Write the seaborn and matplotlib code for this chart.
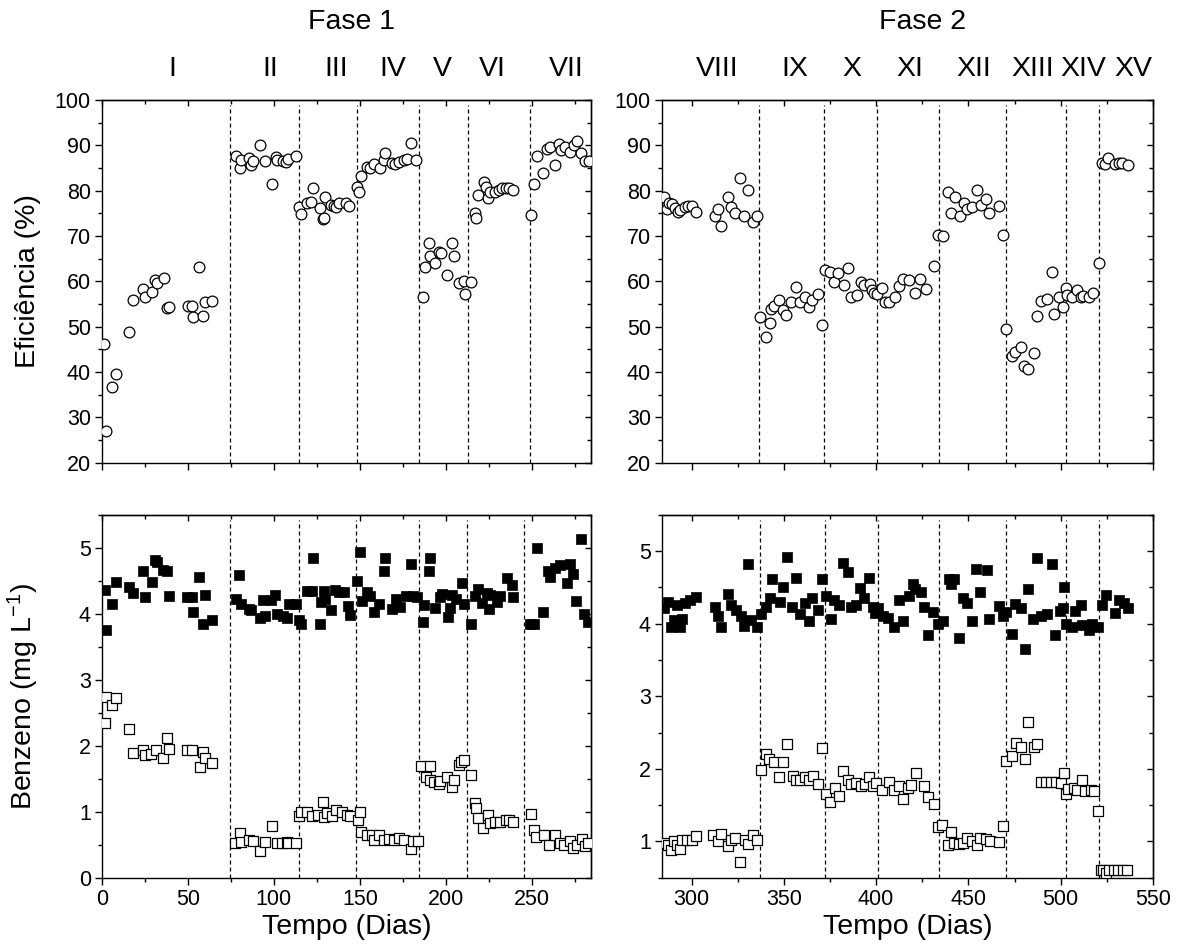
import matplotlib
matplotlib.use("Agg")
import matplotlib.pyplot as plt
import matplotlib.transforms as mtransforms
from matplotlib.ticker import MultipleLocator
import seaborn as sns
import pandas as pd

# ---------------- data ----------------
# Fase 1 - eficiencia (%)
dias_efic_f1 = [1.2, 2.1, 5.6, 8, 15.9, 18, 24, 24.8, 28.9, 30.6, 31.8, 36, 38, 38.8, 50.2, 52.1, 52.7, 56.6, 58.7, 59.9, 64,
                77.7, 80, 80.8, 85.7, 86.4, 87.8, 91.9, 94.6, 98.8, 101, 102, 105.4, 106.8, 108.3, 112.8,
                114.5, 115.9, 119.4, 121.7, 122.7, 126.7, 128.3, 129.1, 130, 133.3, 134.9, 136, 137.8, 141.7, 143.6,
                148.4, 149.4, 150.8, 154.3, 156.2, 158.1, 161.6, 163.9, 164.9, 168.8, 170.7, 172.6, 175.6, 177.5, 179.8, 182.9,
                186.6, 187.8, 190.1, 191.1, 193.6, 196, 197.3, 200.8, 203.7, 204.7, 207.6, 210.5, 211.1, 214.7,
                216.9, 217.8, 218.6, 222.1, 223.4, 224.8, 226, 228.9, 230.8, 232.7, 235.3, 236.6, 239,
                249.6, 251.6, 253.1, 256.6, 258.9, 260.5, 263.4, 265.7, 267.1, 269.6, 272, 274.5, 276.5, 278.5, 281, 283.3]
efic_f1 = [46.2, 27.1, 36.8, 39.6, 48.9, 55.9, 58.3, 56.5, 57.6, 60.3, 59.6, 60.7, 54.2, 54.4, 54.6, 54.6, 52.2, 63.1, 52.4, 55.4, 55.6,
           87.7, 85.1, 86.8, 87.2, 85.7, 86.5, 90.1, 86.5, 81.5, 87.4, 86.8, 86.5, 86.4, 86.9, 87.7,
           76.5, 74.8, 77.2, 77.6, 80.7, 76.1, 73.8, 73.9, 78.5, 76.8, 76.7, 76.5, 77.2, 77.2, 76.6,
           80.9, 79.8, 83.2, 85.3, 85.1, 85.9, 84.9, 86.8, 88.4, 86.2, 85.9, 86.4, 86.8, 87.0, 90.6, 86.8,
           56.5, 63.2, 68.4, 65.6, 64.1, 66.5, 66.2, 61.5, 68.4, 65.6, 59.6, 60.1, 57.2, 59.9,
           75.0, 74.0, 79.0, 82.0, 80.9, 78.3, 79.8, 79.8, 80.1, 80.5, 80.5, 80.7, 80.1,
           74.6, 81.5, 87.7, 84.0, 89.3, 89.7, 85.7, 90.4, 89.0, 89.7, 88.5, 90.0, 91.0, 88.2, 86.5, 86.6]

# Fase 2 - eficiencia (%)
dias_efic_f2 = [285, 286.5, 288, 289.5, 291, 292.5, 294, 296.4, 298.2, 300.5, 302.3, 312.6, 314.4, 316.2, 319.5, 321.6, 323.4, 326.5, 328.5, 330.6, 333.3, 335.5,
                337.3, 340.2, 342.4, 343.2, 344.5, 347.4, 349.6, 351.3, 354, 356.4, 358.5, 361.2, 363.4, 365.4, 368.4, 370.6,
                372.1, 374.8, 377, 379.3, 382.4, 384.7, 386.5, 389.5, 391.9, 393.7, 396.7, 397.8, 399.1, 400.3, 403,
                405, 407.2, 410.4, 412.6, 414.4, 418, 421.2, 423.7, 427, 431.5,
                433.3, 436, 438.7, 440.5, 442.7, 445.4, 447.4, 449.5, 452.2, 454.6, 456.7, 459.4, 461.2, 466.3, 468.8,
                470.6, 473.5, 475.3, 478.4, 480.2, 482.5, 485.5, 487.4, 489.2, 492.4, 495.2, 496.4, 499.1, 501.4,
                503.1, 503.6, 506.3, 508.7, 510.8, 512.1, 515.3, 517.5, 520.7,
                522.1, 524.2, 525.7, 529.3, 531.4, 533.3, 536.5]
efic_f2 = [78.5, 76.0, 77.2, 77.0, 76.2, 75.3, 75.7, 76.3, 76.6, 76.6, 75.4, 74.4, 76.0, 72.3, 78.7, 76.5, 75.1, 82.9, 74.4, 80.1, 73.0, 74.4,
           52.1, 47.8, 50.9, 54.0, 54.6, 55.9, 53.7, 52.5, 55.5, 58.7, 55.5, 56.6, 54.3, 55.9, 57.2, 50.4,
           62.4, 62.1, 59.9, 61.8, 59.2, 62.9, 56.6, 57.0, 59.9, 59.2, 59.4, 58.1, 57.4, 57.1, 58.5,
           55.4, 55.5, 56.6, 59.0, 60.5, 60.4, 57.5, 60.6, 58.3, 63.4,
           70.2, 69.9, 79.6, 75.1, 78.5, 74.4, 77.2, 75.9, 76.3, 80.1, 76.8, 78.1, 75.1, 76.7, 70.2,
           49.4, 43.5, 44.5, 45.6, 41.3, 40.6, 44.1, 52.4, 55.7, 56.0, 62.1, 52.9, 56.5, 54.4,
           58.6, 57.0, 56.6, 58.2, 56.6, 56.8, 56.5, 57.5, 64.1,
           86.2, 85.9, 87.3, 85.9, 86.2, 86.0, 85.7]

# Fase 1 - benzeno afluente (mg/L, filled squares)
dias_afl_f1 = [1.6, 2.3, 5.6, 8, 15.7, 18, 24, 24.8, 28.9, 30.6, 31.8, 35.7, 38, 39, 49.6, 52.1, 52.7, 56.6, 58.5, 59.9, 64,
               77.7, 79.7, 80.6, 85.5, 86.8, 91.7, 93.8, 94.8, 98.6, 100.6, 101.6, 105.4, 107.8, 108.7, 112.6,
               114.9, 115.9, 119.4, 122.3, 122.7, 126.7, 127.7, 129.1, 130, 133.3, 135.5, 137.8, 141, 142.9, 144.2,
               148.4, 150, 151, 154.3, 156.2, 158.1, 161, 163.9, 164.9, 168.8, 171.3, 173.3, 176.6, 179.8, 181, 183.3,
               186.8, 187.2, 190.1, 190.7, 193.6, 196.9, 197.9, 201.2, 202.4, 203.7, 206, 209.5, 210.5,
               214.9, 217.3, 218.6, 221.1, 224.1, 225.4, 226, 229.8, 231.8, 235.6, 238.6, 239,
               249.2, 251.2, 253.1, 256.6, 259.3, 260.5, 263.8, 266.7, 270.6, 272.5, 274, 276, 278.5, 280.5, 282.5]
afl_f1 = [4.36, 3.75, 4.14, 4.48, 4.40, 4.31, 4.65, 4.25, 4.48, 4.82, 4.79, 4.66, 4.64, 4.27, 4.25, 4.25, 4.03, 4.56, 3.85, 4.28, 3.90,
          4.23, 4.58, 4.14, 4.07, 4.06, 3.93, 4.21, 3.96, 4.21, 4.28, 4.00, 3.96, 3.94, 4.14, 4.14,
          3.90, 3.85, 4.34, 4.34, 4.84, 3.85, 4.17, 4.34, 4.22, 4.06, 4.36, 4.33, 4.33, 4.11, 3.98,
          4.50, 4.93, 4.20, 4.33, 4.27, 4.03, 4.15, 4.65, 4.84, 4.07, 4.22, 4.10, 4.27, 4.75, 4.27, 4.25,
          3.88, 4.13, 4.65, 4.85, 4.08, 4.25, 4.30, 3.95, 4.08, 4.28, 4.22, 4.47, 4.15,
          3.85, 4.27, 4.37, 4.16, 4.31, 4.07, 4.28, 4.17, 4.27, 4.54, 4.43, 4.25,
          3.85, 3.85, 5.00, 4.03, 4.64, 4.56, 4.70, 4.74, 4.47, 4.75, 4.60, 4.20, 5.13, 4.00, 3.88]

# Fase 1 - benzeno efluente (mg/L, open squares)
dias_efl_f1 = [1.6, 2.1, 5.6, 8, 15.7, 18, 24, 25, 28.7, 31.2, 35.7, 38, 39, 49.6, 52.5, 57, 58.9, 59.7, 64.1,
               77.1, 80, 80.6, 85.5, 87.8, 91.9, 94.8, 99, 101.6, 104.5, 107.4, 108.3, 112.6,
               114.5, 115.9, 119.4, 122.3, 125.6, 128.7, 129.1, 131, 133.9, 136.4, 139.7, 142.6, 144.2,
               148.8, 150, 150.8, 153.9, 157.2, 158.1, 161, 163.9, 166.9, 169.8, 172.7, 175.6, 179.8, 181, 183.7,
               185.8, 188.3, 190.7, 190.9, 193, 195.9, 196.9, 200.8, 203.7, 205, 207.6, 208.9, 210.9, 214.9,
               217.3, 217.8, 218.6, 221.7, 224.6, 225.6, 228.9, 231.8, 235.1, 236.6, 239,
               249.6, 251.6, 252.5, 257, 259.9, 263.8, 266.7, 269, 272, 274, 276.5, 279, 281, 283]
efl_f1 = [2.35, 2.74, 2.62, 2.72, 2.25, 1.89, 1.93, 1.86, 1.88, 1.93, 1.82, 2.12, 1.95, 1.93, 1.93, 1.68, 1.91, 1.81, 1.74,
          0.53, 0.68, 0.54, 0.57, 0.56, 0.40, 0.54, 0.78, 0.53, 0.53, 0.54, 0.53, 0.52,
          0.93, 1.00, 1.00, 0.93, 0.95, 1.14, 0.92, 0.98, 0.93, 1.03, 1.00, 0.95, 0.93,
          0.87, 1.00, 0.70, 0.65, 0.65, 0.57, 0.65, 0.57, 0.59, 0.57, 0.60, 0.57, 0.44, 0.55, 0.56,
          1.69, 1.52, 1.69, 1.48, 1.45, 1.42, 1.47, 1.53, 1.38, 1.48, 1.71, 1.76, 1.79, 1.56,
          1.13, 1.06, 0.91, 0.75, 0.95, 0.83, 0.85, 0.85, 0.88, 0.87, 0.85,
          0.97, 0.72, 0.62, 0.65, 0.49, 0.65, 0.52, 0.49, 0.55, 0.45, 0.50, 0.58, 0.48, 0.52]

# Fase 2 - benzeno afluente
dias_afl_f2 = [285, 287, 289, 290.5, 292, 293.7, 294.6, 296.4, 299.1, 302.3, 312.6, 314.4, 316.2, 319.5, 321.6, 324, 326.6, 328.5, 330.6, 332.4, 335.5,
               337.5, 340.2, 342.4, 343.8, 347.8, 349.6, 351.7, 354.6, 356.4, 358.5, 361.2, 363.6, 365.4, 368.4, 370.6,
               373, 375.7, 377, 379.8, 382.3, 384.7, 386.5, 389.2, 391.5, 393.3, 396.4, 398.2, 399.6, 400.9,
               403.6, 406.3, 409.9, 412.6, 414.8, 417.6, 419.8, 421.3, 424.3, 426.1, 427.9, 431, 433.3,
               436, 439.3, 440.5, 442.3, 445, 447.2, 449.5, 452.2, 454, 456.2, 459.8, 461.2, 466.3, 468.8, 470.2,
               473.5, 475.3, 478.4, 480.7, 482.5, 485, 487.4, 489.2, 492.4, 495.5, 496.7, 499.4, 501.2, 501.7,
               502.6, 506.2, 508, 511.1, 511.6, 515.3, 517.1, 520.3,
               522.5, 524.8, 529.3, 531.5, 534.2, 536.5]
afl_f2 = [4.22, 4.30, 3.95, 4.05, 4.25, 3.96, 4.07, 4.28, 4.32, 4.36, 4.23, 4.10, 3.96, 4.41, 4.26, 4.19, 4.10, 3.97, 4.82, 4.05, 3.96,
          4.13, 4.23, 4.35, 4.62, 4.30, 4.51, 4.92, 4.23, 4.63, 4.13, 4.28, 4.04, 4.35, 4.19, 4.61,
          4.38, 4.06, 4.33, 4.26, 4.84, 4.71, 4.23, 4.26, 4.49, 4.35, 4.63, 4.23, 4.14, 4.21,
          4.10, 4.08, 3.96, 4.32, 4.03, 4.38, 4.55, 4.47, 4.44, 4.23, 3.84, 4.16, 3.99,
          4.03, 4.62, 4.55, 4.62, 3.80, 4.35, 4.28, 4.03, 4.75, 4.44, 4.74, 4.06, 4.24, 4.10, 4.16,
          3.86, 4.27, 4.22, 3.65, 4.47, 4.06, 4.91, 4.10, 4.13, 4.82, 3.84, 4.18, 4.22, 4.50,
          4.00, 3.95, 4.18, 4.26, 3.98, 3.91, 3.99, 3.95,
          4.26, 4.39, 4.15, 4.32, 4.28, 4.22]

# Fase 2 - benzeno efluente
dias_efl_f2 = [285, 287, 289, 290.5, 292, 293.7, 294.6, 297.3, 300, 302.3, 311.7, 314.4, 316.2, 319.5, 321.6, 323.4, 326.5, 328.8, 330.6, 333.3, 335.5,
               337.5, 340.2, 342, 344.5, 347.4, 349.6, 351.7, 354.9, 356.7, 358.9, 361.2, 363.6, 365.8, 368.4, 370.6,
               372.6, 375.1, 377.5, 379.7, 382.3, 384.7, 386.5, 389.2, 391.9, 394, 396.4, 398.2, 400, 403.2,
               407.2, 409.9, 412.6, 414.4, 417.1, 418.9, 421.6, 426.1, 427.9, 431.5,
               433.3, 435.7, 438.7, 440.5, 442.3, 445, 446.8, 449.5, 452.2, 454.9, 456.2, 459.4, 461.6, 466.3, 468.5,
               470.6, 473.5, 475.7, 478.5, 480.7, 482.5, 485.5, 487.4, 489.2, 491.9, 494.6, 497.3, 500, 501.7,
               502.6, 504.1, 507.1, 508.9, 511.3, 513.1, 516.2, 518, 520.3,
               521.6, 522.8, 524.6, 526.4, 528.8, 531.1, 533.6, 536]
efl_f2 = [0.98, 0.95, 0.88, 1.00, 0.95, 0.90, 1.02, 1.02, 1.02, 1.08, 1.09, 1.00, 1.10, 0.94, 1.02, 1.04, 0.71, 1.02, 0.97, 1.09, 1.02,
          1.98, 2.20, 2.14, 2.10, 1.89, 2.10, 2.34, 1.90, 1.85, 1.85, 1.89, 1.85, 1.90, 1.79, 2.29,
          1.65, 1.54, 1.74, 1.63, 1.97, 1.84, 1.79, 1.80, 1.76, 1.79, 1.89, 1.76, 1.80, 1.71,
          1.82, 1.71, 1.76, 1.59, 1.74, 1.78, 1.94, 1.76, 1.61, 1.52,
          1.20, 1.23, 0.95, 1.13, 0.98, 0.97, 0.98, 1.04, 1.01, 0.95, 1.04, 1.03, 1.01, 0.99, 1.21,
          2.11, 2.17, 2.36, 2.30, 2.14, 2.65, 2.30, 2.34, 1.82, 1.82, 1.82, 1.82, 1.81, 1.94,
          1.65, 1.72, 1.73, 1.71, 1.84, 1.70, 1.71, 1.70, 1.42,
          0.61, 0.60, 0.56, 0.60, 0.60, 0.60, 0.61, 0.61]

# stage boundaries and labels
limites_efic_f1 = [74.2, 114.5, 148.1, 184.3, 212.8, 249.0]
limites_benz_f1 = [74.2, 114.5, 147.7, 184.5, 212.6, 245.3]
limites_efic_f2 = [336.4, 371.9, 400.4, 434.1, 470.2, 502.6, 520.5]
limites_benz_f2 = [337.3, 372.4, 400.9, 434.2, 470.2, 502.7, 520.6]
etapas_f1 = ["I", "II", "III", "IV", "V", "VI", "VII"]
pos_etapas_f1 = [41, 98, 136, 169, 198, 227, 270]
etapas_f2 = ["VIII", "IX", "X", "XI", "XII", "XIII", "XIV", "XV"]
pos_etapas_f2 = [314, 356, 387, 418, 453, 485, 512.5, 539.5]
fases = ["Fase 1", "Fase 2"]
pos_fases = [145, 425]

# ---------------- style ----------------
sns.set_theme(style="ticks")
plt.rcParams["font.family"] = ["Liberation Sans", "DejaVu Sans"]
plt.rcParams["mathtext.default"] = "regular"
plt.rcParams["axes.linewidth"] = 1.0

fig = plt.figure(figsize=(11.82, 9.49), dpi=100)
W, H = 1182, 949
def box(l, r, t, b):
    return [l / W, 1 - b / H, (r - l) / W, (b - t) / H]

ax_tl = fig.add_axes(box(102, 591, 100, 462.7))
ax_tr = fig.add_axes(box(662, 1153, 100, 462.7))
ax_bl = fig.add_axes(box(102, 591, 514.7, 877.7))
ax_br = fig.add_axes(box(662, 1153, 514.7, 877.7))

TICK_FS = 15.5
LABEL_FS = 20.5

circ = dict(marker="o", s=60, facecolor="white", edgecolor="black", linewidth=0.9, legend=False, zorder=3)
sq_open = dict(marker="s", s=52, facecolor="white", edgecolor="black", linewidth=0.9, legend=False, zorder=3)
sq_fill = dict(marker="s", s=52, color="black", edgecolor="black", linewidth=0.5, legend=False, zorder=3)

sns.scatterplot(data=pd.DataFrame({"d": dias_efic_f1, "v": efic_f1}), x="d", y="v", ax=ax_tl, **circ)
sns.scatterplot(data=pd.DataFrame({"d": dias_efic_f2, "v": efic_f2}), x="d", y="v", ax=ax_tr, **circ)
sns.scatterplot(data=pd.DataFrame({"d": dias_afl_f1, "v": afl_f1}), x="d", y="v", ax=ax_bl, **sq_fill)
sns.scatterplot(data=pd.DataFrame({"d": dias_efl_f1, "v": efl_f1}), x="d", y="v", ax=ax_bl, **sq_open)
sns.scatterplot(data=pd.DataFrame({"d": dias_afl_f2, "v": afl_f2}), x="d", y="v", ax=ax_br, **sq_fill)
sns.scatterplot(data=pd.DataFrame({"d": dias_efl_f2, "v": efl_f2}), x="d", y="v", ax=ax_br, **sq_open)

def style_axis(ax, xlim, ylim, xmaj, xmin, ymaj, ymin, xlabels=True):
    ax.set_xlim(*xlim)
    ax.set_ylim(*ylim)
    ax.xaxis.set_major_locator(MultipleLocator(xmaj))
    ax.xaxis.set_minor_locator(MultipleLocator(xmin))
    ax.yaxis.set_major_locator(MultipleLocator(ymaj))
    ax.yaxis.set_minor_locator(MultipleLocator(ymin))
    ax.tick_params(which="both", direction="out", top=False, right=False, width=1.0,
                   color="black", labelcolor="black", labelsize=TICK_FS, pad=3)
    ax.tick_params(which="major", length=5)
    ax.tick_params(which="minor", length=3)
    if not xlabels:
        ax.tick_params(axis="x", labelbottom=False)
    for sp in ax.spines.values():
        sp.set_visible(True)
        sp.set_color("black")
        sp.set_linewidth(1.0)
    sx = ax.secondary_xaxis("top")
    sx.xaxis.set_major_locator(MultipleLocator(xmaj))
    sx.xaxis.set_minor_locator(MultipleLocator(xmin))
    sx.tick_params(which="both", direction="in", labeltop=False, width=1.0, color="black")
    sx.tick_params(which="major", length=4)
    sx.tick_params(which="minor", length=3)
    sy = ax.secondary_yaxis("right")
    sy.yaxis.set_major_locator(MultipleLocator(ymaj))
    sy.yaxis.set_minor_locator(MultipleLocator(ymin))
    sy.tick_params(which="both", direction="in", labelright=False, width=1.0, color="black")
    sy.tick_params(which="major", length=4)
    sy.tick_params(which="minor", length=3)
    ax.set_xlabel("")
    ax.set_ylabel("")

style_axis(ax_tl, (0, 284.5), (20, 100), 50, 25, 10, 5, xlabels=False)
style_axis(ax_tr, (284, 550), (20, 100), 50, 25, 10, 5, xlabels=False)
style_axis(ax_bl, (0, 284.5), (0, 5.5), 50, 25, 1, 0.5)
style_axis(ax_br, (284, 550), (0.5, 5.5), 50, 25, 1, 0.5)

dash = dict(color="black", linewidth=0.9, linestyle=(0, (3.2, 2.4)), zorder=2)
for ax, lims in [(ax_tl, limites_efic_f1), (ax_tr, limites_efic_f2),
                 (ax_bl, limites_benz_f1), (ax_br, limites_benz_f2)]:
    for x in lims:
        ax.axvline(x, ymin=0.0, ymax=0.985, **dash)

for ax, labs, pos in [(ax_tl, etapas_f1, pos_etapas_f1), (ax_tr, etapas_f2, pos_etapas_f2)]:
    tr = mtransforms.blended_transform_factory(ax.transData, ax.transAxes)
    for lab, x in zip(labs, pos):
        ax.text(x, 1.085, lab, transform=tr, ha="center", va="center", fontsize=LABEL_FS, color="black")

for ax, lab, x in zip([ax_tl, ax_tr], fases, pos_fases):
    tr = mtransforms.blended_transform_factory(ax.transData, ax.transAxes)
    ax.text(x, 1.215, lab, transform=tr, ha="center", va="center", fontsize=LABEL_FS, color="black")

ax_tl.set_ylabel("Eficiência (%)", fontsize=LABEL_FS, color="black")
ax_bl.set_ylabel("Benzeno (mg L$^{-1}$)", fontsize=LABEL_FS, color="black")
ax_tl.yaxis.set_label_coords(-0.125, 0.5)
ax_bl.yaxis.set_label_coords(-0.125, 0.5)
for ax in (ax_bl, ax_br):
    ax.set_xlabel("Tempo (Dias)", fontsize=LABEL_FS, color="black")
    ax.xaxis.set_label_coords(0.5, -0.1)

fig.savefig("out.png", dpi=100, facecolor="white")
